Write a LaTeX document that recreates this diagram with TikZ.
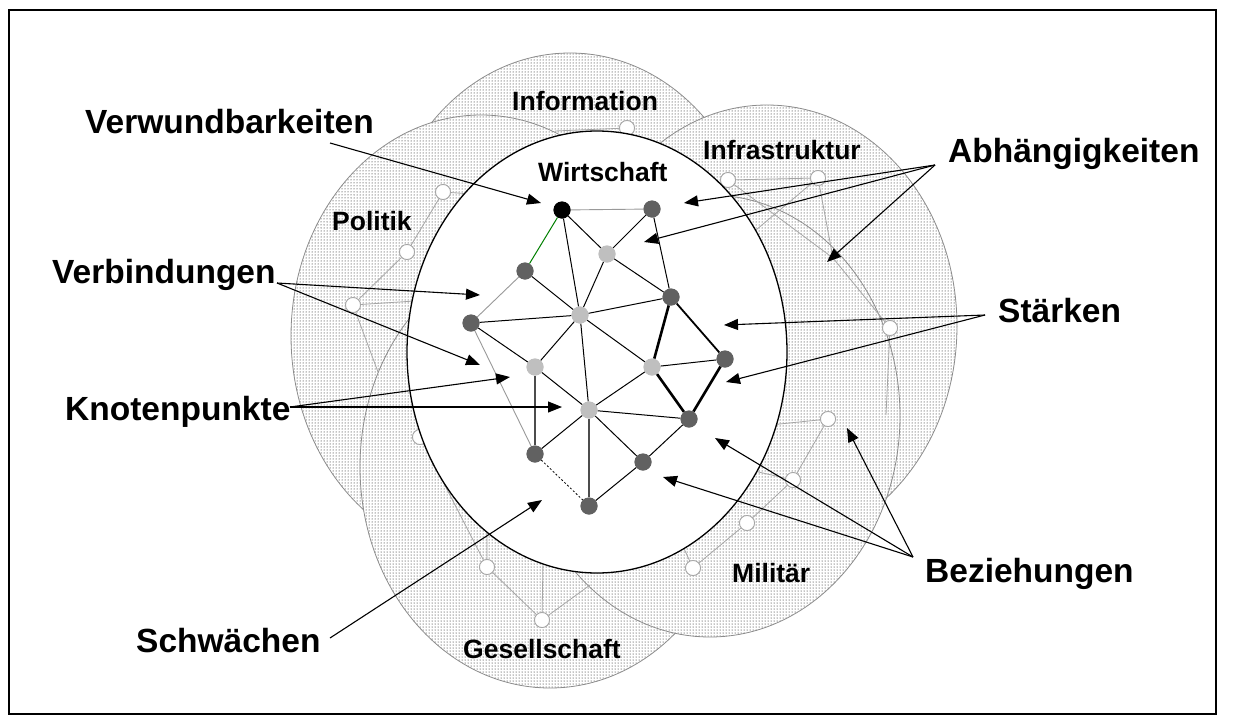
\documentclass[tikz,border=0pt]{standalone}
\usepackage{fontspec}
\setmainfont{Liberation Sans}
\usetikzlibrary{patterns,arrows.meta}
\begin{document}
\begin{tikzpicture}[x=1pt,y=-1pt,
  ring/.style={preaction={fill=white}, pattern=dots, pattern color=black, draw=black!45, line width=0.8pt},
  core/.style={fill=white, draw=black, line width=1.3pt},
  ghost/.style={circle, draw=black!35, fill=white, line width=0.8pt, minimum size=15pt, inner sep=0pt},
  ghostlink/.style={draw=black!35, line width=0.8pt},
  dnode/.style={circle, fill=black!62, minimum size=17pt, inner sep=0pt},
  lnode/.style={circle, fill=black!25, minimum size=17pt, inner sep=0pt},
  knode/.style={circle, fill=black, minimum size=17pt, inner sep=0pt},
  link/.style={line width=1pt, draw=black},
  darklink/.style={line width=1.3pt, draw=black!70},
  strong/.style={line width=2.6pt, draw=black},
  medium/.style={line width=1.8pt, draw=black},
  faint/.style={line width=0.9pt, draw=black!40},
  greenlink/.style={line width=1pt, draw=green!50!black},
  dotlink/.style={line width=0.8pt, draw=black, dash pattern=on 2pt off 2pt},
  ptr/.style={line width=1.1pt, -{Triangle[length=14pt,width=11pt]}},
  biglabel/.style={font=\fontsize{33.5}{36}\selectfont\bfseries, inner sep=0pt, anchor=base west},
  ringlabel/.style={font=\fontsize{26.5}{28}\selectfont\bfseries, inner sep=0pt, anchor=base west}
]
\useasboundingbox (0,0) rectangle (1234,726);
\draw[line width=2pt] (9,10) rectangle (1216,714);

% outer domains, stacked
\path[ring] (570,274) ellipse [x radius=190, y radius=221]; % Information
\path[ring] (481,336) ellipse [x radius=190, y radius=221]; % Politik
\path[ring] (767,326) ellipse [x radius=190, y radius=221]; % Infrastruktur
\path[ring] (550,467) ellipse [x radius=190, y radius=221]; % Gesellschaft
\path[ring] (710,416) ellipse [x radius=190, y radius=221]; % Militaer

% faint networks of the outer domains
\node[ghost] (gp1) at (443,192) {};
\node[ghost] (gp2) at (407,252) {};
\node[ghost] (gp3) at (353,305) {};
\node[ghost] (gi1) at (627,128) {};
\node[ghost] (gf1) at (728,180) {};
\node[ghost] (gf2) at (818,178) {};
\node[ghost] (gf3) at (890,328) {};
\node[ghost] (gm1) at (828,419) {};
\node[ghost] (gm2) at (793,480) {};
\node[ghost] (gm3) at (747,523) {};
\node[ghost] (gm4) at (693,568) {};
\node[ghost] (gg0) at (420,437) {};
\node[ghost] (gg1) at (487,567) {};
\node[ghost] (gg2) at (542,620) {};
\coordinate (xp1) at (500,196);
\coordinate (xp3) at (430,300);
\coordinate (xp4) at (378,372);
\coordinate (xi1) at (555,131);
\coordinate (xi2) at (636,172);
\coordinate (xf1) at (833,258);
\coordinate (xf2) at (750,235);
\coordinate (xf3) at (886,415);
\coordinate (xm1) at (770,425);
\coordinate (xm2) at (750,470);
\coordinate (xm4) at (680,540);
\coordinate (xg2) at (543,560);
\coordinate (xg3) at (590,585);
\coordinate (xg1) at (487,520);
\path[ghostlink] (gp1) -- (gp2) -- (gp3) (gp1) -- (xp1) (gp3) -- (xp3) (gp3) -- (xp4)
  (gi1) -- (xi1) (gi1) -- (xi2)
  (gf1) -- (gf2) (gf1) -- (xf1) (gf2) -- (xf1) (gf2) -- (xf2) (xf1) -- (gf3) (gf3) -- (xf3)
  (gm1) -- (gm2) -- (gm3) -- (gm4) (gm1) -- (xm1) (gm2) -- (xm2) (gm4) -- (xm4)
  (gg1) -- (gg2) (gg2) -- (xg2) (gg2) -- (xg3) (gg1) -- (xg1) (gg1) -- (gg0);
\foreach \g in {gp1,gp2,gp3,gi1,gf1,gf2,gf3,gm1,gm2,gm3,gm4,gg0,gg1,gg2}
  \node[ghost] at (\g) {};

% Wirtschaft core
\path[core] (597,352) ellipse [x radius=190, y radius=221];

% core network
\node[knode] (nV) at (562,210) {};
\node[dnode] (nA) at (652,209) {};
\node[lnode] (nB) at (607,254) {};
\node[dnode] (nC) at (525,271) {};
\node[dnode] (nD) at (671,297) {};
\node[lnode] (nE) at (580,315) {};
\node[dnode] (nF) at (471,323) {};
\node[dnode] (nG) at (725,359) {};
\node[lnode] (nH) at (535,367) {};
\node[lnode] (nI) at (652,367) {};
\node[lnode] (nJ) at (589,410) {};
\node[dnode] (nK) at (689,419) {};
\node[dnode] (nL) at (535,454) {};
\node[dnode] (nM) at (643,462) {};
\node[dnode] (nN) at (589,506) {};
\path[faint] (nV) -- (nA) (nC) -- (nF) (nF) -- (nL);
\path[greenlink] (nV) -- (nC);
\path[link] (nV) -- (nB) (nV) -- (nE) (nA) -- (nB) (nA) -- (nD) (nB) -- (nE) (nB) -- (nD)
  (nC) -- (nE) (nF) -- (nE) (nF) -- (nH) (nE) -- (nD) (nE) -- (nI) (nE) -- (nH) (nE) -- (nJ)
  (nI) -- (nG) (nI) -- (nJ) (nH) -- (nJ) (nJ) -- (nK) (nJ) -- (nL) (nJ) -- (nM)
  (nK) -- (nM) (nM) -- (nN);
\path[darklink] (nH) -- (nL) (nJ) -- (nN);
\path[strong] (nD) -- (nI) (nI) -- (nK) (nG) -- (nK);
\path[medium] (nD) -- (nG);
\path[dotlink] (nL) -- (nN);
\node[knode] at (nV) {};
\foreach \n in {nA,nC,nD,nF,nG,nK,nL,nM,nN} \node[dnode] at (\n) {};
\foreach \n in {nB,nE,nH,nI,nJ} \node[lnode] at (\n) {};

% domain names
\node[ringlabel] (tInfo) at (512,110) {Information};
\node[ringlabel] (tWirt) at (538,181) {Wirtschaft};
\node[ringlabel] (tPol) at (332,230) {Politik};
\node[ringlabel] (tInfra) at (703,159) {Infrastruktur};
\node[ringlabel] (tGes) at (463,658) {Gesellschaft};
\node[ringlabel] (tMil) at (732,582) {Militär};

% callouts
\node[biglabel] (lVer) at (85,133) {Verwundbarkeiten};
\node[biglabel] (lVerb) at (52,283) {Verbindungen};
\node[biglabel] (lKno) at (65,420) {Knotenpunkte};
\node[biglabel] (lSchw) at (136,652) {Schwächen};
\node[biglabel] (lAbh) at (948,162) {Abhängigkeiten};
\node[biglabel] (lSta) at (998,322) {Stärken};
\node[biglabel] (lBez) at (925,582) {Beziehungen};

\coordinate (sVer) at (330,143);
\coordinate (sVerb) at (277,283);
\coordinate (sKno) at (290,407);
\coordinate (sSchw) at (330,638);
\coordinate (sAbh) at (935,165);
\coordinate (sSta) at (985,315);
\coordinate (sBez) at (913,557);

\coordinate (tVer) at (541,203);
\coordinate (tVerb1) at (480,295);
\coordinate (tVerb2) at (480,365);
\coordinate (tKno1) at (510,377);
\coordinate (tKno2) at (562,407);
\coordinate (tSchw) at (542,500);
\coordinate (tAbh1) at (684,203);
\coordinate (tAbh2) at (644,242);
\coordinate (tAbh3) at (827,262);
\coordinate (tSta1) at (724,325);
\coordinate (tSta2) at (726,382);
\coordinate (tBez1) at (715,438);
\coordinate (tBez2) at (663,477);
\coordinate (tBez3) at (847,428);

\draw[ptr] (sVer) -- (tVer);
\draw[ptr] (sVerb) -- (tVerb1);
\draw[ptr] (sVerb) -- (tVerb2);
\draw[ptr] (sKno) -- (tKno1);
\draw[ptr] (sKno) -- (tKno2);
\draw[ptr] (sSchw) -- (tSchw);
\draw[ptr] (sAbh) -- (tAbh1);
\draw[ptr] (sAbh) -- (tAbh2);
\draw[ptr] (sAbh) -- (tAbh3);
\draw[ptr] (sSta) -- (tSta1);
\draw[ptr] (sSta) -- (tSta2);
\draw[ptr] (sBez) -- (tBez1);
\draw[ptr] (sBez) -- (tBez2);
\draw[ptr] (sBez) -- (tBez3);
\end{tikzpicture}
\end{document}
